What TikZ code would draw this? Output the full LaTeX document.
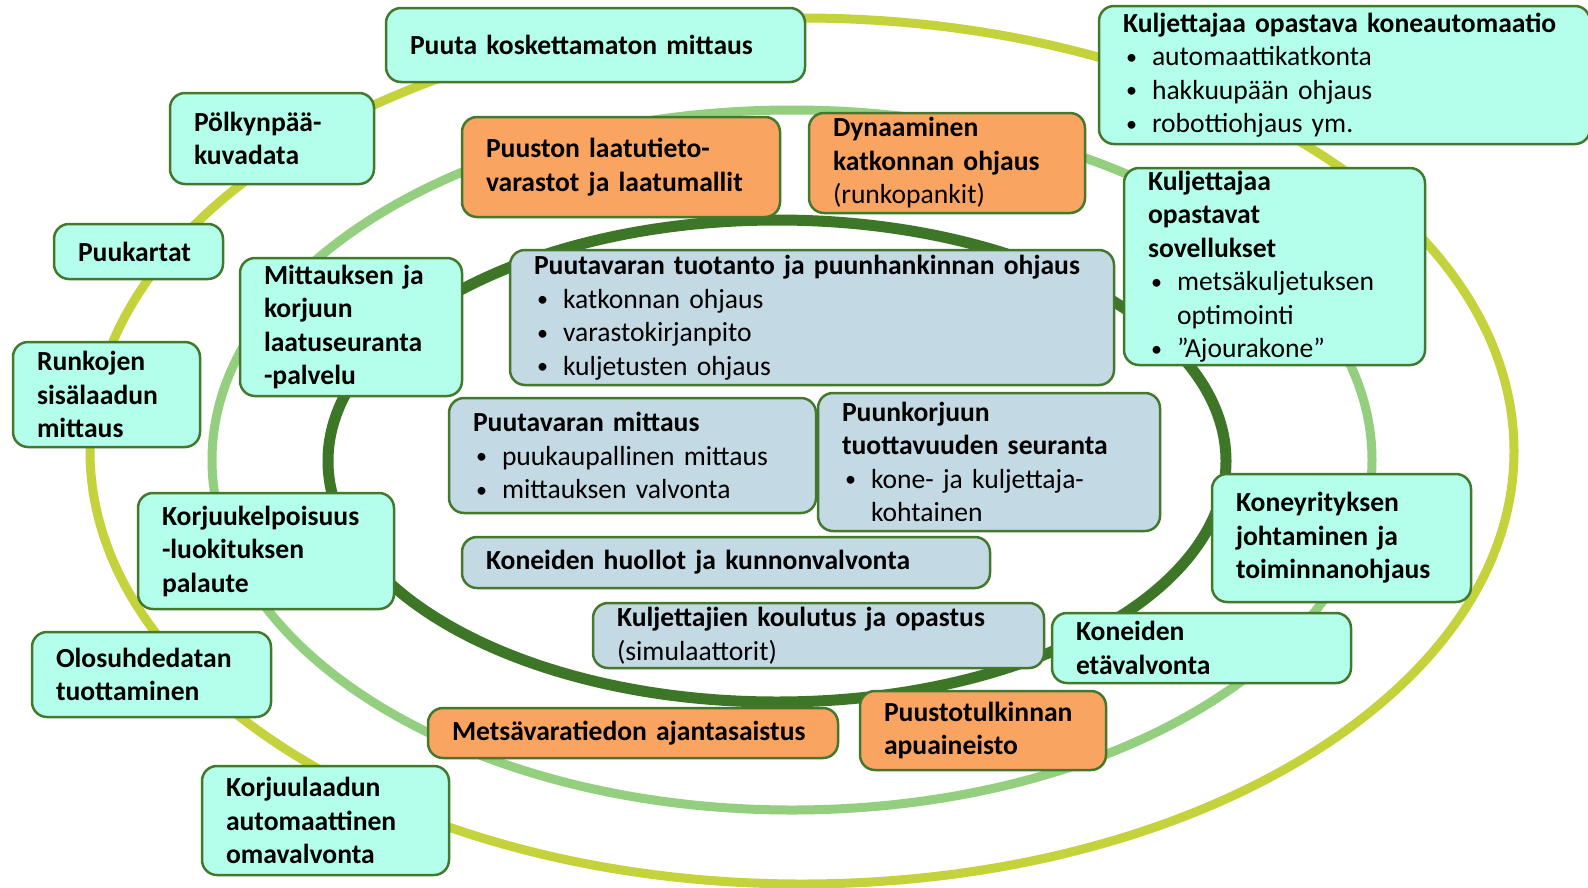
\documentclass[tikz,border=0pt]{standalone}
\usepackage{fontspec}
\setmainfont{Carlito}
\definecolor{ringY}{HTML}{C4D23C}
\definecolor{ringL}{HTML}{93CF7E}
\definecolor{ringD}{HTML}{3C7626}
\definecolor{bordG}{HTML}{43782D}
\definecolor{aquaF}{HTML}{B4FFEB}
\definecolor{orngF}{HTML}{FAA462}
\definecolor{blueF}{HTML}{C3D9E3}
\newcommand\bul{\makebox[29pt][l]{\hspace{3pt}\mdseries\raisebox{1.5pt}{\scalebox{0.8}{\textbullet}}}\mdseries}
\newcommand\ind{\hspace*{29pt}}
\newcommand\mybox[7]{%
  \pgfmathsetmacro\bw{#5-#3}\pgfmathsetmacro\bh{#6-#4}\pgfmathsetmacro\tw{#5-#3-48}%
  \node[tbox,#2,minimum width=\bw pt,minimum height=\bh pt,text width=\tw pt] (#1) at ({(#3+#5)/2},{(#4+#6)/2}) {#7\par\vspace{-4pt}};}
\tikzset{
  tbox/.style={draw=bordG, line width=2.5pt, rounded corners=15pt, inner xsep=24pt, inner ysep=2pt,
     align=left, font=\fontsize{27.6}{33.5}\selectfont\bfseries},
  aqua/.style={fill=aquaF},
  orng/.style={fill=orngF},
  blu/.style={fill=blueF},
  ring/.style={line width=9pt}
}
\begin{document}
\begin{tikzpicture}[x=1pt,y=-1pt]
\useasboundingbox (0,0) rectangle (1588,887);
\fill[white] (0,0) rectangle (1588,887);
% rings
\draw[ring, ringY] (802,451) ellipse [x radius=712pt, y radius=433pt];
\draw[ring, ringL] (792,460) ellipse [x radius=580pt, y radius=350pt];
\draw[ring, ringD, line width=11pt] (777,461) ellipse [x radius=449pt, y radius=241pt];
% boxes
\mybox{puuta}{aqua}{386}{8}{805}{82}{Puuta koskettamaton mittaus}
\mybox{polky}{aqua}{170}{93}{374}{184}{Pölkynpää-\\kuvadata}
\mybox{puukartat}{aqua}{54}{224}{223}{279}{Puukartat}
\mybox{runkojen}{aqua}{13}{342}{200}{447}{Runkojen\\sisälaadun\\mittaus}
\mybox{laatutieto}{orng}{462}{117}{780}{217}{Puuston laatutieto-\\varastot ja laatumallit}
\mybox{mittauksen}{aqua}{240}{258}{462}{396}{Mittauksen ja\\korjuun\\laatuseuranta\\-palvelu}
\mybox{tuotanto}{blu}{510}{250}{1114}{385}{Puutavaran tuotanto ja puunhankinnan ohjaus\\\bul katkonnan ohjaus\\\bul varastokirjanpito\\\bul kuljetusten ohjaus}
\mybox{mittaus}{blu}{449}{398}{816}{513}{Puutavaran mittaus\\\bul puukaupallinen mittaus\\\bul mittauksen valvonta}
\mybox{korjuu}{blu}{818}{393}{1160}{531}{Puunkorjuun\\tuottavuuden seuranta\\\bul kone- ja kuljettaja-\\\ind kohtainen}
\mybox{huollot}{blu}{462}{537}{990}{588}{Koneiden huollot ja kunnonvalvonta}
\mybox{koulutus}{blu}{593}{603}{1044}{668}{Kuljettajien koulutus ja opastus\\{\mdseries (simulaattorit)}}
\mybox{metsavara}{orng}{428}{708}{838}{758}{Metsävaratiedon ajantasaistus}
\mybox{puusto}{orng}{860}{691}{1106}{770}{Puustotulkinnan\\apuaineisto}
\mybox{etavalvonta}{aqua}{1052}{613}{1351}{683}{Koneiden\\etävalvonta}
\mybox{koneyritys}{aqua}{1212}{474}{1471}{602}{Koneyrityksen\\johtaminen ja\\toiminnanohjaus}
\mybox{sovellukset}{aqua}{1124}{168}{1425}{365}{Kuljettajaa\\opastavat\\sovellukset\\\bul metsäkuljetuksen\\\ind optimointi\\\bul ”Ajourakone”}
\mybox{automaatio}{aqua}{1099}{6}{1590}{144}{\mbox{Kuljettajaa opastava koneautomaatio}\\\bul automaattikatkonta\\\bul hakkuupään ohjaus\\\bul robottiohjaus ym.}
\mybox{dynaaminen}{orng}{809}{113}{1085}{213}{Dynaaminen\\katkonnan ohjaus\\{\mdseries (runkopankit)}}
\mybox{korjuukelp}{aqua}{138}{493}{394}{609}{Korjuukelpoisuus\\-luokituksen\\palaute}
\mybox{olosuhde}{aqua}{32}{632}{271}{717}{Olosuhdedatan\\tuottaminen}
\mybox{korjuulaatu}{aqua}{202}{766}{449}{875}{Korjuulaadun\\automaattinen\\omavalvonta}
\end{tikzpicture}
\end{document}
